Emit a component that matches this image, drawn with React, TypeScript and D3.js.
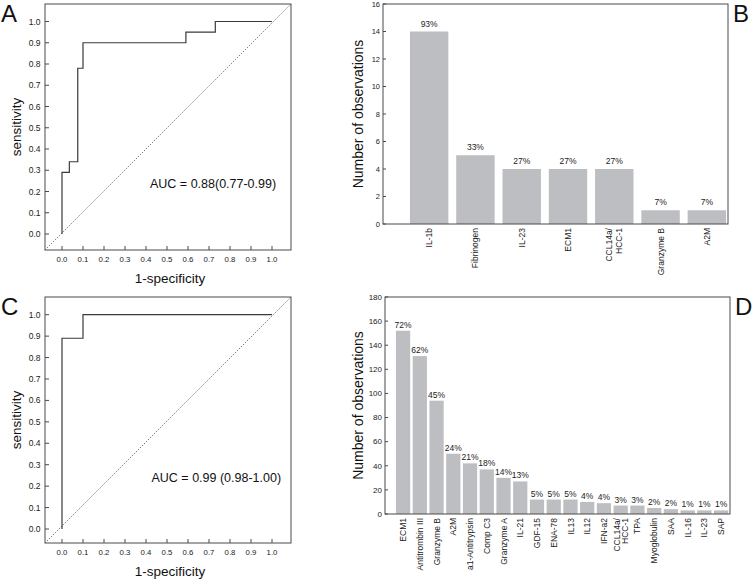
import React from 'react';
import * as d3 from 'd3';

// ---------- data ----------
const rocTicks = [0, 0.1, 0.2, 0.3, 0.4, 0.5, 0.6, 0.7, 0.8, 0.9, 1.0];

const rocAFpr = [0, 0, 0.035, 0.075, 0.1, 0.59, 0.73, 1];
const rocATpr = [0, 0.29, 0.34, 0.78, 0.9, 0.95, 1, 1];
const aucA = 'AUC = 0.88(0.77-0.99)';

const rocCFpr = [0, 0, 0.1, 1];
const rocCTpr = [0, 0.89, 1, 1];
const aucC = 'AUC = 0.99 (0.98-1.00)';

const catsB = ['IL-1b', 'Fibrinogen', 'IL-23', 'ECM1', 'CCL14a/\nHCC-1', 'Granzyme B', 'A2M'];
const valsB = [14, 5, 4, 4, 4, 1, 1];
const pctB = ['93%', '33%', '27%', '27%', '27%', '7%', '7%'];
const ticksB = [0, 2, 4, 6, 8, 10, 12, 14, 16];

const catsD = [
  'ECM1', 'Antitrombin III', 'Granzyme B', 'A2M', 'a1-Antitrypsin', 'Comp C3',
  'Granzyme A', 'IL-21', 'GDF-15', 'ENA-78', 'IL13', 'IL12', 'IFN-a2',
  'CCL14a/\nHCC-1', 'TPA', 'Myoglobulin', 'SAA', 'IL-16', 'IL-23', 'SAP',
];
const valsD = [152, 131, 94, 50, 42, 37, 30, 27, 12, 12, 12, 10, 9, 7, 7, 5, 4, 3, 3, 3];
const pctD = [
  '72%', '62%', '45%', '24%', '21%', '18%', '14%', '13%', '5%', '5%', '5%', '4%', '4%',
  '3%', '3%', '2%', '2%', '1%', '1%', '1%',
];
const ticksD = [0, 20, 40, 60, 80, 100, 120, 140, 160, 180];

// ---------- style ----------
const FONT = 'Liberation Sans, Arial, Helvetica, sans-serif';
const FRAME = '#4a4a4a';
const TXT = '#222';
const BAR = '#bdbec1';

type RocProps = {
  fpr: number[];
  tpr: number[];
  auc: string;
  letter: string;
  box: { x0: number; x1: number; y0: number; y1: number };
  yr: [number, number];
  aucPos: [number, number];
};

function RocPanel({ fpr, tpr, auc, letter, box, yr, aucPos }: RocProps) {
  const x = d3.scaleLinear().domain([0, 1]).range([62, 272]);
  const y = d3.scaleLinear().domain([0, 1]).range(yr);
  const pts: [number, number][] = fpr.map((f, i) => [f, tpr[i]]);
  const line = d3
    .line<[number, number]>()
    .x((d) => x(d[0]))
    .y((d) => y(d[1]))
    .curve(d3.curveStepAfter);
  const diag: [number, number][] = [
    [x.invert(box.x0), y.invert(box.y1)],
    [x.invert(box.x1), y.invert(box.y0)],
  ];
  const diagLine = d3
    .line<[number, number]>()
    .x((d) => x(d[0]))
    .y((d) => y(d[1]));
  return (
    <g fontFamily={FONT}>
      <text x={1} y={box.y0 + 18} fontSize={24} fill="#111">
        {letter}
      </text>
      <rect
        x={box.x0}
        y={box.y0}
        width={box.x1 - box.x0}
        height={box.y1 - box.y0}
        fill="none"
        stroke={FRAME}
        strokeWidth={1}
      />
      <path d={diagLine(diag) || ''} fill="none" stroke="#555" strokeWidth={0.8} strokeDasharray="1.4,1.4" />
      <path d={line(pts) || ''} fill="none" stroke="#3a3a3a" strokeWidth={1.2} />
      {rocTicks.map((t) => (
        <g key={'y' + t}>
          <line x1={box.x0} x2={box.x0 + 4} y1={y(t)} y2={y(t)} stroke={FRAME} strokeWidth={1} />
          <text x={box.x0 - 4.5} y={y(t) + 3} fontSize={8.5} textAnchor="end" fill={TXT}>
            {t.toFixed(1)}
          </text>
        </g>
      ))}
      {rocTicks.map((t) => (
        <g key={'x' + t}>
          <line x1={x(t)} x2={x(t)} y1={box.y1} y2={box.y1 - 4} stroke={FRAME} strokeWidth={1} />
          <text x={x(t)} y={box.y1 + 12} fontSize={7.8} textAnchor="middle" fill={TXT}>
            {t.toFixed(1)}
          </text>
        </g>
      ))}
      <text x={aucPos[0]} y={aucPos[1]} fontSize={12.5} fill="#111">
        {auc}
      </text>
      <text
        transform={`translate(20.5,${(box.y0 + box.y1) / 2}) rotate(-90)`}
        fontSize={13.5}
        textAnchor="middle"
        fill="#111"
      >
        sensitivity
      </text>
      <text x={170} y={box.y1 + 33} fontSize={13.5} textAnchor="middle" fill="#111">
        1-specificity
      </text>
    </g>
  );
}

type BarProps = {
  cats: string[];
  vals: number[];
  pcts: string[];
  ticks: number[];
  letter: string;
  box: { x0: number; x1: number; y0: number; y1: number };
  band: [number, number];
  pad: number;
  tickFont: number;
  catFont: number;
  pctFont: number;
  pctGap: number;
  lineGap: number;
};

function BarPanel(p: BarProps) {
  const { box } = p;
  const max = p.ticks[p.ticks.length - 1];
  const y = d3.scaleLinear().domain([0, max]).range([box.y1, box.y0]);
  const x = d3
    .scaleBand<string>()
    .domain(p.cats)
    .range(p.band)
    .paddingInner(p.pad)
    .paddingOuter(p.pad / 2);
  const bw = x.bandwidth();
  return (
    <g fontFamily={FONT}>
      <text x={box.x1 + 5} y={box.y0 + 18} fontSize={24} fill="#111">
        {p.letter}
      </text>
      {p.cats.map((c, i) => {
        const cx = (x(c) as number) + bw / 2;
        const lines = c.split('\n');
        const off = ((lines.length - 1) * p.lineGap) / 2;
        return (
          <g key={c}>
            <rect x={x(c)} y={y(p.vals[i])} width={bw} height={box.y1 - y(p.vals[i])} fill={BAR} />
            <text x={cx} y={y(p.vals[i]) - p.pctGap} fontSize={p.pctFont} textAnchor="middle" fill={TXT}>
              {p.pcts[i]}
            </text>
            <text
              transform={`translate(${cx + p.catFont * 0.36},${box.y1 + 4}) rotate(-90)`}
              fontSize={p.catFont}
              textAnchor="end"
              fill={TXT}
            >
              {lines.map((l, j) => (
                <tspan key={j} x={0} y={j * p.lineGap - off}>
                  {l}
                </tspan>
              ))}
            </text>
          </g>
        );
      })}
      <rect
        x={box.x0}
        y={box.y0}
        width={box.x1 - box.x0}
        height={box.y1 - box.y0}
        fill="none"
        stroke={FRAME}
        strokeWidth={1}
      />
      {p.ticks.map((t) => (
        <g key={t}>
          <line x1={box.x0} x2={box.x0 + 3} y1={y(t)} y2={y(t)} stroke={FRAME} strokeWidth={1} />
          <text x={box.x0 - 3} y={y(t) + 2.8} fontSize={p.tickFont} textAnchor="end" fill={TXT}>
            {t}
          </text>
        </g>
      ))}
      <text
        transform={`translate(363,${(box.y0 + box.y1) / 2}) rotate(-90)`}
        fontSize={14}
        textAnchor="middle"
        fill="#111"
      >
        Number of observations
      </text>
    </g>
  );
}

export default function App() {
  return (
    <svg
      width={753}
      height={581}
      style={{ position: 'absolute', left: 0, top: 0, background: '#fff' }}
    >
      <rect x={0} y={0} width={753} height={581} fill="#fff" />
      <RocPanel
        fpr={rocAFpr}
        tpr={rocATpr}
        auc={aucA}
        letter="A"
        box={{ x0: 45, x1: 291, y0: 4, y1: 250 }}
        yr={[234, 21.5]}
        aucPos={[150, 188]}
      />
      <RocPanel
        fpr={rocCFpr}
        tpr={rocCTpr}
        auc={aucC}
        letter="C"
        box={{ x0: 45, x1: 291, y0: 297, y1: 543 }}
        yr={[529, 314.7]}
        aucPos={[151.5, 482]}
      />
      <BarPanel
        cats={catsB}
        vals={valsB}
        pcts={pctB}
        ticks={ticksB}
        letter="B"
        box={{ x0: 383, x1: 728, y0: 4, y1: 224 }}
        band={[406, 730]}
        pad={0.17}
        tickFont={7.5}
        catFont={8.5}
        pctFont={8.5}
        pctGap={5}
        lineGap={10}
      />
      <BarPanel
        cats={catsD}
        vals={valsD}
        pcts={pctD}
        ticks={ticksD}
        letter="D"
        box={{ x0: 385, x1: 730, y0: 297, y1: 514 }}
        band={[394.7, 729.5]}
        pad={0.15}
        tickFont={8}
        catFont={8.5}
        pctFont={8.5}
        pctGap={3}
        lineGap={8.5}
      />
    </svg>
  );
}
